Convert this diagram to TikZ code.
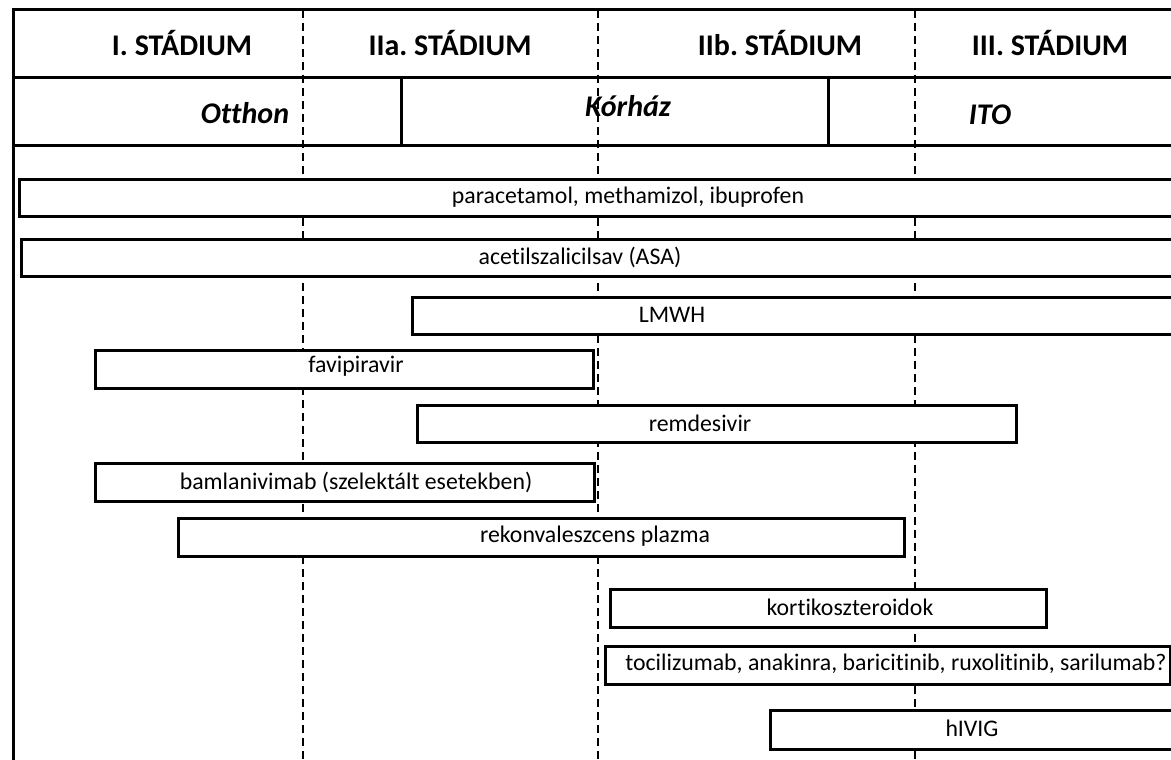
\documentclass[tikz,border=0pt]{standalone}
\usepackage{fontspec}
\setmainfont{Carlito}[Ligatures=NoCommon]
\usetikzlibrary{positioning}
\frenchspacing

\begin{document}
\begin{tikzpicture}[
  x=1pt,
  y=-1pt,
  frame/.style={line width=3pt},
  stage/.style={line width=2.6pt, dash pattern=on 8pt off 5pt},
  head/.style={font=\fontsize{30}{34}\selectfont\bfseries},
  place/.style={font=\fontsize{30}{34}\selectfont\bfseries\itshape},
  bar/.style={draw, fill=white, line width=2.5pt, anchor=north west,
    inner sep=0pt},
  tag/.style={font=\fontsize{23.8}{28}\selectfont, inner sep=0pt},
  ]
  \useasboundingbox [fill=white] (0,0) rectangle (1171,760);
  \clip (0,0) rectangle (1171,760);

  % stage borders
  \coordinate (s1-top) at (303,10);
  \coordinate (s1-bot) at (303,760);
  \coordinate (s2-top) at (598,10);
  \coordinate (s2-bot) at (598,760);
  \coordinate (s3-top) at (915,10);
  \coordinate (s3-bot) at (915,760);
  \draw [stage] (s1-top) -- (s1-bot);
  \draw [stage] (s2-top) -- (s2-bot);
  \draw [stage] (s3-top) -- (s3-bot);

  % header frame
  \coordinate (top-left) at (13,10);
  \coordinate (top-right) at (1180,10);
  \coordinate (mid-left) at (13,78);
  \coordinate (mid-right) at (1180,78);
  \coordinate (low-left) at (13,145);
  \coordinate (low-right) at (1180,145);
  \coordinate (frame-bot) at (13,770);
  \draw [frame] (top-right) -- (top-left) -- (frame-bot);
  \draw [frame] (mid-left) -- (mid-right);
  \draw [frame] (low-left) -- (low-right);
  \coordinate (home-end) at (401,78);
  \coordinate (home-end-b) at (401,145);
  \coordinate (ward-end) at (828,78);
  \coordinate (ward-end-b) at (828,145);
  \draw [frame] (home-end) -- (home-end-b);
  \draw [frame] (ward-end) -- (ward-end-b);

  \node [head] (stage-1) at (182,43) {I. STÁDIUM};
  \node [head] (stage-2a) at (450,43) {IIa. STÁDIUM};
  \node [head] (stage-2b) at (780,43) {IIb. STÁDIUM};
  \node [head] (stage-3) at (1050,43) {III. STÁDIUM};
  \node [place] (home) at (245,113) {Otthon};
  \node [place] (ward) at (628,106) {Kórház};
  \node [place] (icu) at (990,115) {ITO};

  % drug bars
  \node [bar, minimum width=1200, minimum height=37] (para) at (18,178) {};
  \node [tag] (para-t) at (628,197) {paracetamol, methamizol, ibuprofen};
  \node [bar, minimum width=1200, minimum height=37] (asa) at (20,238) {};
  \node [tag] (asa-t) at (580,257) {acetilszalicilsav (ASA)};
  \node [bar, minimum width=800, minimum height=37] (lmwh) at (411,296) {};
  \node [tag] (lmwh-t) at (672,315) {LMWH};
  \node [bar, minimum width=498, minimum height=38] (favi) at (94,349) {};
  \node [tag] (favi-t) at (356,366) {favipiravir};
  \node [bar, minimum width=599, minimum height=37] (remd) at (416,404) {};
  \node [tag] (remd-t) at (700,423) {remdesivir};
  \node [bar, minimum width=499, minimum height=38] (bamla) at (94,462) {};
  \node [tag] (bamla-t) at (356,482) {bamlanivimab (szelektált esetekben)};
  \node [bar, minimum width=726, minimum height=38] (rekon) at (177,517) {};
  \node [tag] (rekon-t) at (595,536) {rekonvaleszcens plazma};
  \node [bar, minimum width=436, minimum height=38] (korti) at (609,588) {};
  \node [tag] (korti-t) at (850,607) {kortikoszteroidok};
  \node [bar, minimum width=565, minimum height=38] (toci) at (604,645) {};
  \node [tag] (toci-t) at (896,664) {tocilizumab, anakinra, baricitinib, ruxolitinib, sarilumab?};
  \node [bar, minimum width=600, minimum height=39] (hivig) at (769,709) {};
  \node [tag] (hivig-t) at (972,728) {hIVIG};
\end{tikzpicture}
\end{document}
